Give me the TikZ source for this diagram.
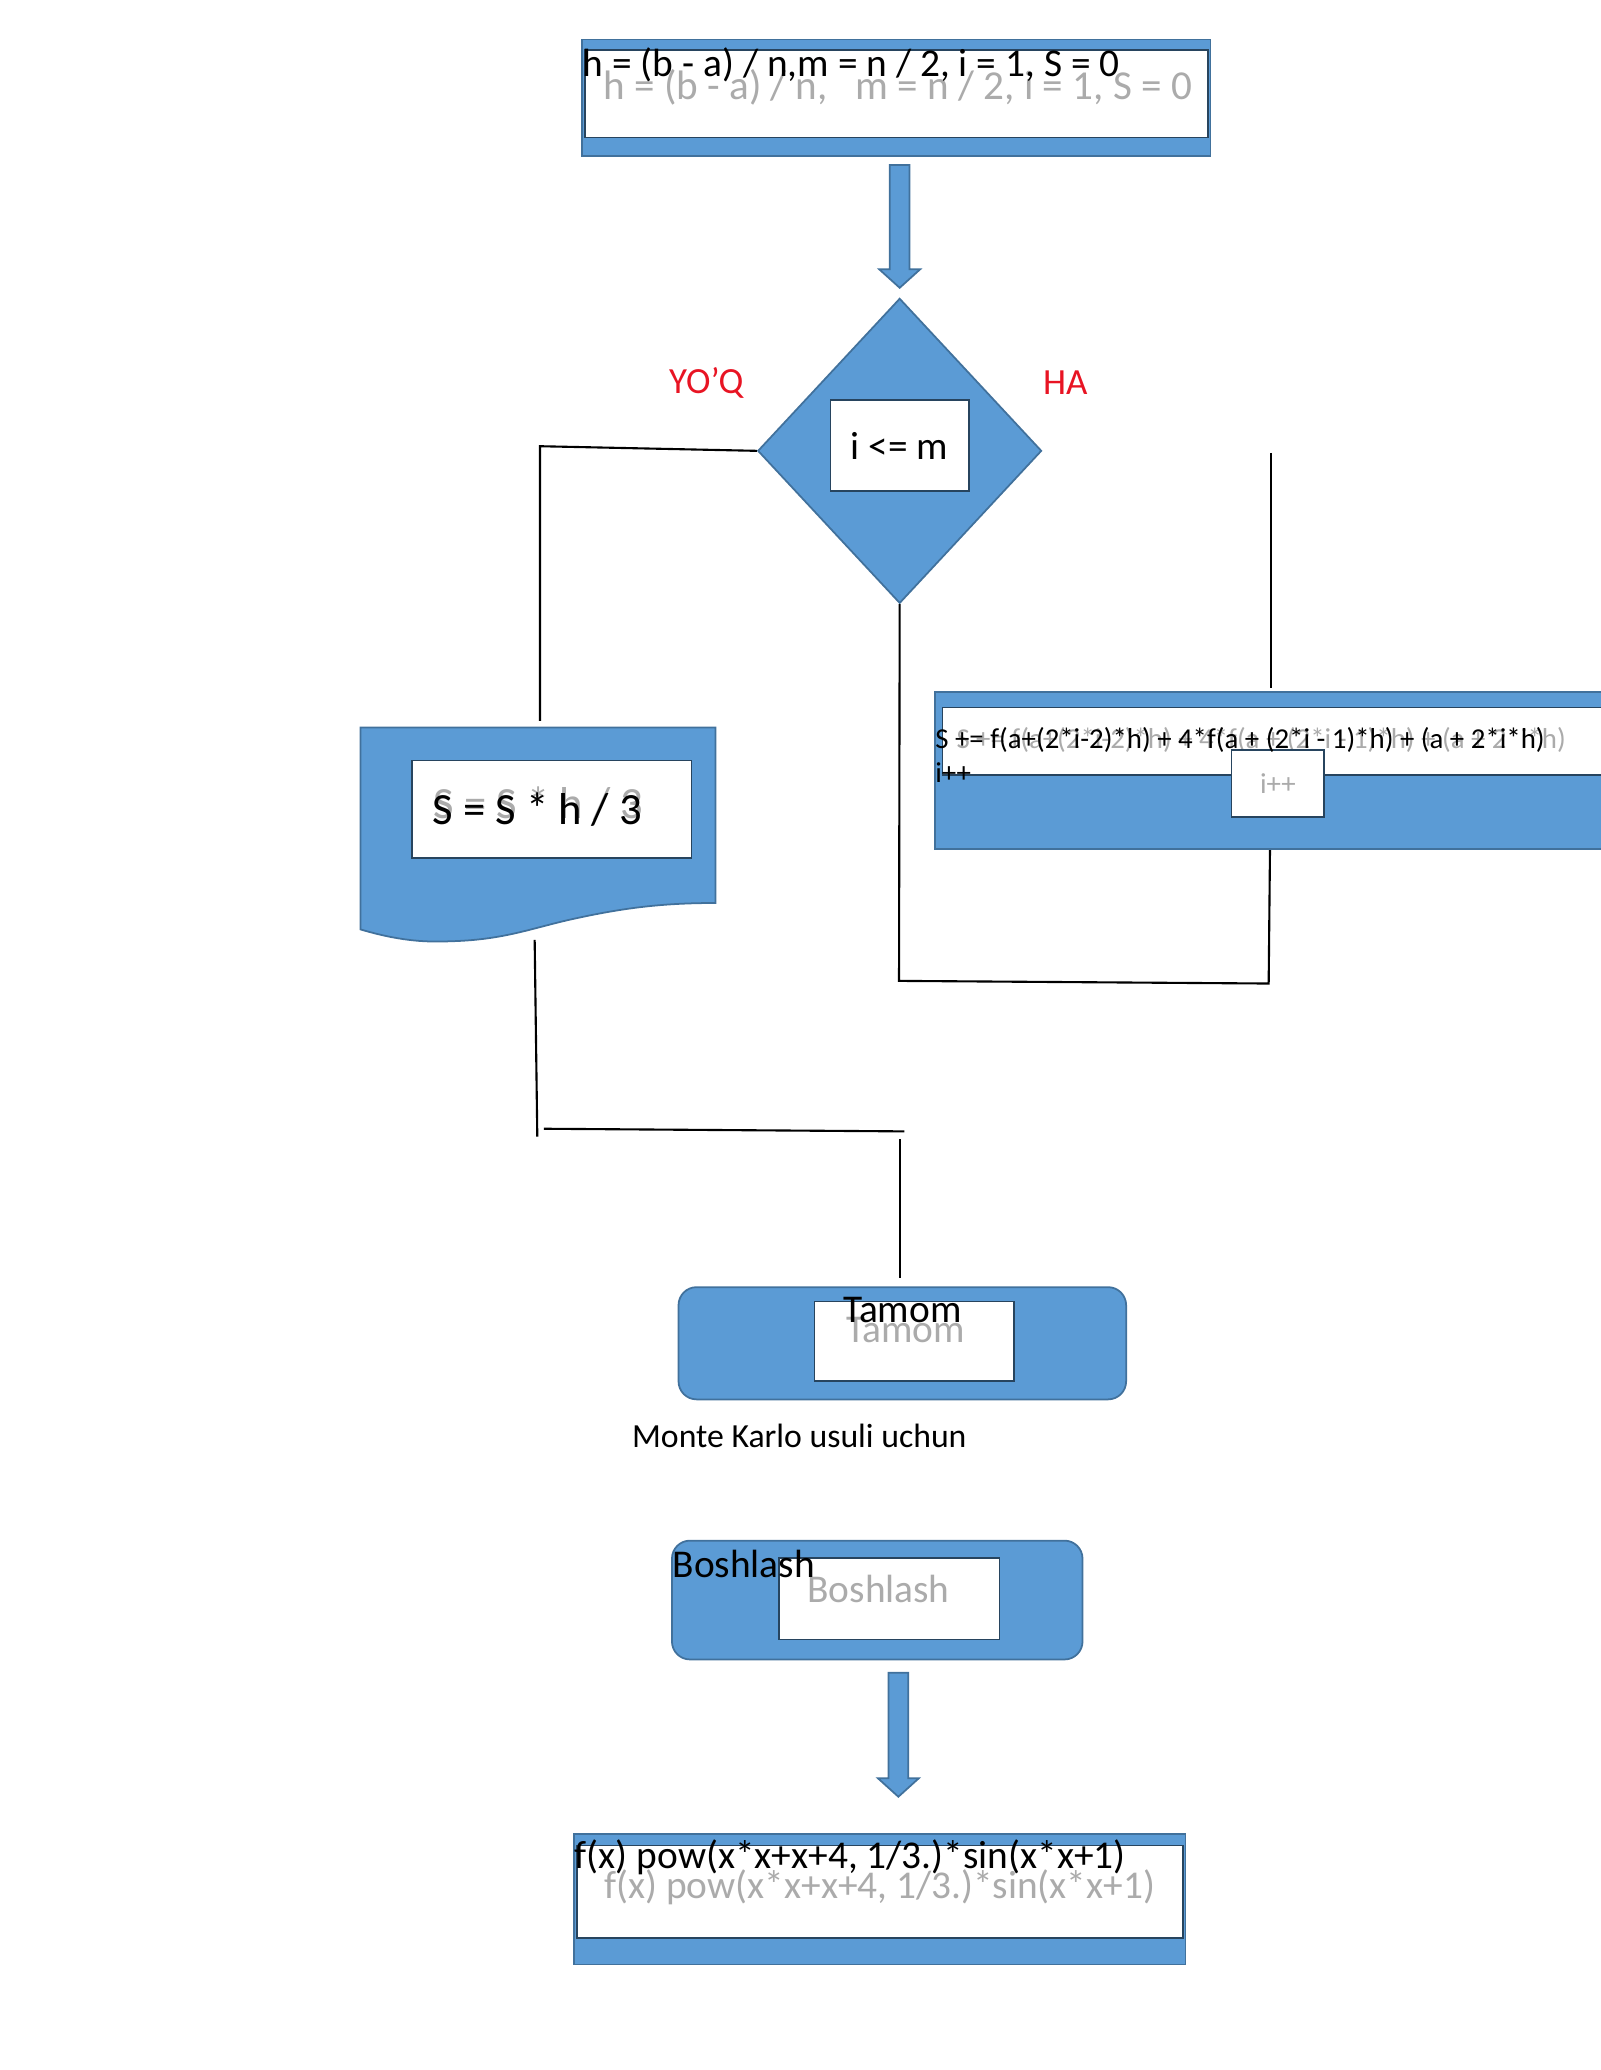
\documentclass[tikz,border=0pt]{standalone}
\usepackage{fontspec}
\setmainfont{Carlito}
\usetikzlibrary{shapes.geometric}

\definecolor{boxblue}{RGB}{91,155,213}
\definecolor{edgeblue}{RGB}{65,113,156}
\definecolor{labelred}{RGB}{232,20,35}

\tikzset{
	band/.style={rectangle,fill=boxblue,draw=edgeblue,line width=0.5pt,inner sep=0pt},
	pane/.style={rectangle,fill=white,draw=edgeblue!60!black,line width=0.4pt,inner sep=0pt},
	txt/.style={inner sep=0pt,font=\fontsize{11.2}{13}\selectfont},
	ghost/.style={txt,text=black!33},
	link/.style={draw=black,line width=0.6pt},
	decision/.style={diamond,fill=boxblue,draw=edgeblue,line width=0.5pt,inner sep=0pt},
	terminal/.style={band,rounded corners=0.18cm},
	blockarrow/.style={fill=boxblue,draw=edgeblue,line width=0.5pt}
}

\begin{document}
\begin{tikzpicture}[x=0.0132cm,y=-0.0132cm]
		\useasboundingbox (0,0) rectangle (1212,1568);

		% initial values
		\node[band,minimum width=6.283cm,minimum height=1.162cm] (init) at (679,74) {};
		\node[pane,minimum width=6.23cm,minimum height=0.871cm] (initpane) at (679,71) {};
		\node[ghost,anchor=base,font=\fontsize{11.7}{13}\selectfont] (initghost) at (680,75) {h = (b - a) / n,\ \ \ m = n / 2, i = 1, S = 0};
		\node[txt,anchor=base west] (inittext) at (441,58) {h = (b - a) / n,m = n / 2, i = 1, S = 0};

		% block arrows
		\foreach \x/\ya/\yb in {681.5/125/218, 680.5/1267/1361}
			\filldraw[blockarrow] (\x-7.5,\ya) -- (\x+7.5,\ya) -- (\x+7.5,\yb-14) -- (\x+15.5,\yb-14)
				-- (\x,\yb) -- (\x-15.5,\yb-14) -- (\x-7.5,\yb-14) -- cycle;

		% condition
		\node[decision,minimum width=2.838cm,minimum height=3.049cm] (cond) at (681.5,341.5) {};
		\node[pane,txt,minimum width=1.386cm,minimum height=0.911cm] (condpane) at (681.5,337.5) {i <= m};
		\node[txt,text=labelred,font=\fontsize{10.5}{12}\selectfont] (no) at (535,290) {YO’Q};
		\node[txt,text=labelred,font=\fontsize{10.5}{12}\selectfont] (yes) at (807,290) {HA};

		% result (document shape)
		\filldraw[fill=boxblue,draw=edgeblue,line width=0.5pt] (273,551) -- (542,551) -- (542,684)
			.. controls (500,684) and (470,688) .. (430,697)
			.. controls (400,704) and (380,712) .. (341,713)
			.. controls (320,714) and (300,712) .. (273,704) -- cycle;
		\node[pane,minimum width=2.798cm,minimum height=0.977cm] (respane) at (418,613) {};
		\node[ghost,font=\fontsize{12.7}{14}\selectfont] (resghost) at (408,609) {S = S * h / 3};
		\node[txt,font=\fontsize{12.7}{14}\selectfont] (restext) at (407,613) {S = S * h / 3};

		% loop body
		\node[band,minimum width=6.864cm,minimum height=1.571cm] (sum) at (968,583.5) {};
		\node[pane,minimum width=6.785cm,minimum height=0.673cm] (sumpane) at (971,561.5) {};
		\node[ghost,anchor=base west,font=\fontsize{8.2}{10}\selectfont] (sumghost) at (724,567) {S += f(a+(2*i-2)*h) + 4*f(a + (2*i - 1)*h) + (a + 2*i*h)};
		\node[pane,ghost,minimum width=0.924cm,minimum height=0.673cm,font=\fontsize{8.2}{10}\selectfont] (incpane) at (968,593.5) {i++};
		\node[txt,anchor=base west,font=\fontsize{8.2}{10}\selectfont] (sumtext) at (708,567) {S += f(a+(2*i-2)*h) + 4*f(a + (2*i - 1)*h) + (a + 2*i*h)};
		\node[txt,anchor=base west,font=\fontsize{8.2}{10}\selectfont] (inctext) at (708,593) {i++};

		% end
		\node[terminal,minimum width=4.475cm,minimum height=1.122cm] (finish) at (683.5,1017.5) {};
		\node[pane,minimum width=1.993cm,minimum height=0.792cm] (finishpane) at (692.5,1016) {};
		\node[ghost,anchor=base] (finishghost) at (686,1017) {Tamom};
		\node[txt,anchor=base] (finishtext) at (683.5,1002) {Tamom};

		\node[txt,font=\fontsize{9.6}{11}\selectfont] (method) at (605.5,1088) {Monte Karlo usuli uchun};

		% start
		\node[terminal,minimum width=4.105cm,minimum height=1.188cm] (start) at (664.5,1212) {};
		\node[pane,minimum width=2.204cm,minimum height=0.818cm] (startpane) at (673.5,1211) {};
		\node[ghost,anchor=base] (startghost) at (665.5,1214) {Boshlash};
		\node[txt,anchor=base west] (starttext) at (509,1195) {Boshlash};

		% function
		\node[band,minimum width=6.112cm,minimum height=1.307cm] (func) at (666.5,1438.5) {};
		\node[pane,minimum width=6.059cm,minimum height=0.924cm] (funcpane) at (666.5,1433) {};
		\node[ghost,anchor=base] (funcghost) at (666.5,1438) {f(x) pow(x*x+x+4, 1/3.)*sin(x*x+1)};
		\node[txt,anchor=base west] (functext) at (435,1415) {f(x) pow(x*x+x+4, 1/3.)*sin(x*x+1)};

		% connectors
		\coordinate (nocorner) at (409,338);
		\coordinate (resin) at (409,546);
		\draw[link] (cond.west) -- (nocorner) -- (resin);

		\coordinate (loopup) at (963,343);
		\coordinate (loopin) at (963,521);
		\draw[link] (loopup) -- (loopin);
		\coordinate (loopout) at (962,644);
		\coordinate (loopright) at (961,745);
		\coordinate (loopleft) at (681,743);
		\draw[link] (loopout) -- (loopright) -- (loopleft) -- (cond.south);

		\coordinate (resout) at (405,712);
		\coordinate (mergeleft) at (407,861);
		\draw[link] (resout) -- (mergeleft);
		\coordinate (mergestart) at (412,855);
		\coordinate (mergeend) at (685,857);
		\draw[link] (mergestart) -- (mergeend);
		\coordinate (finishup) at (682,863);
		\coordinate (finishin) at (682,968);
		\draw[link] (finishup) -- (finishin);
	\end{tikzpicture}
\end{document}
